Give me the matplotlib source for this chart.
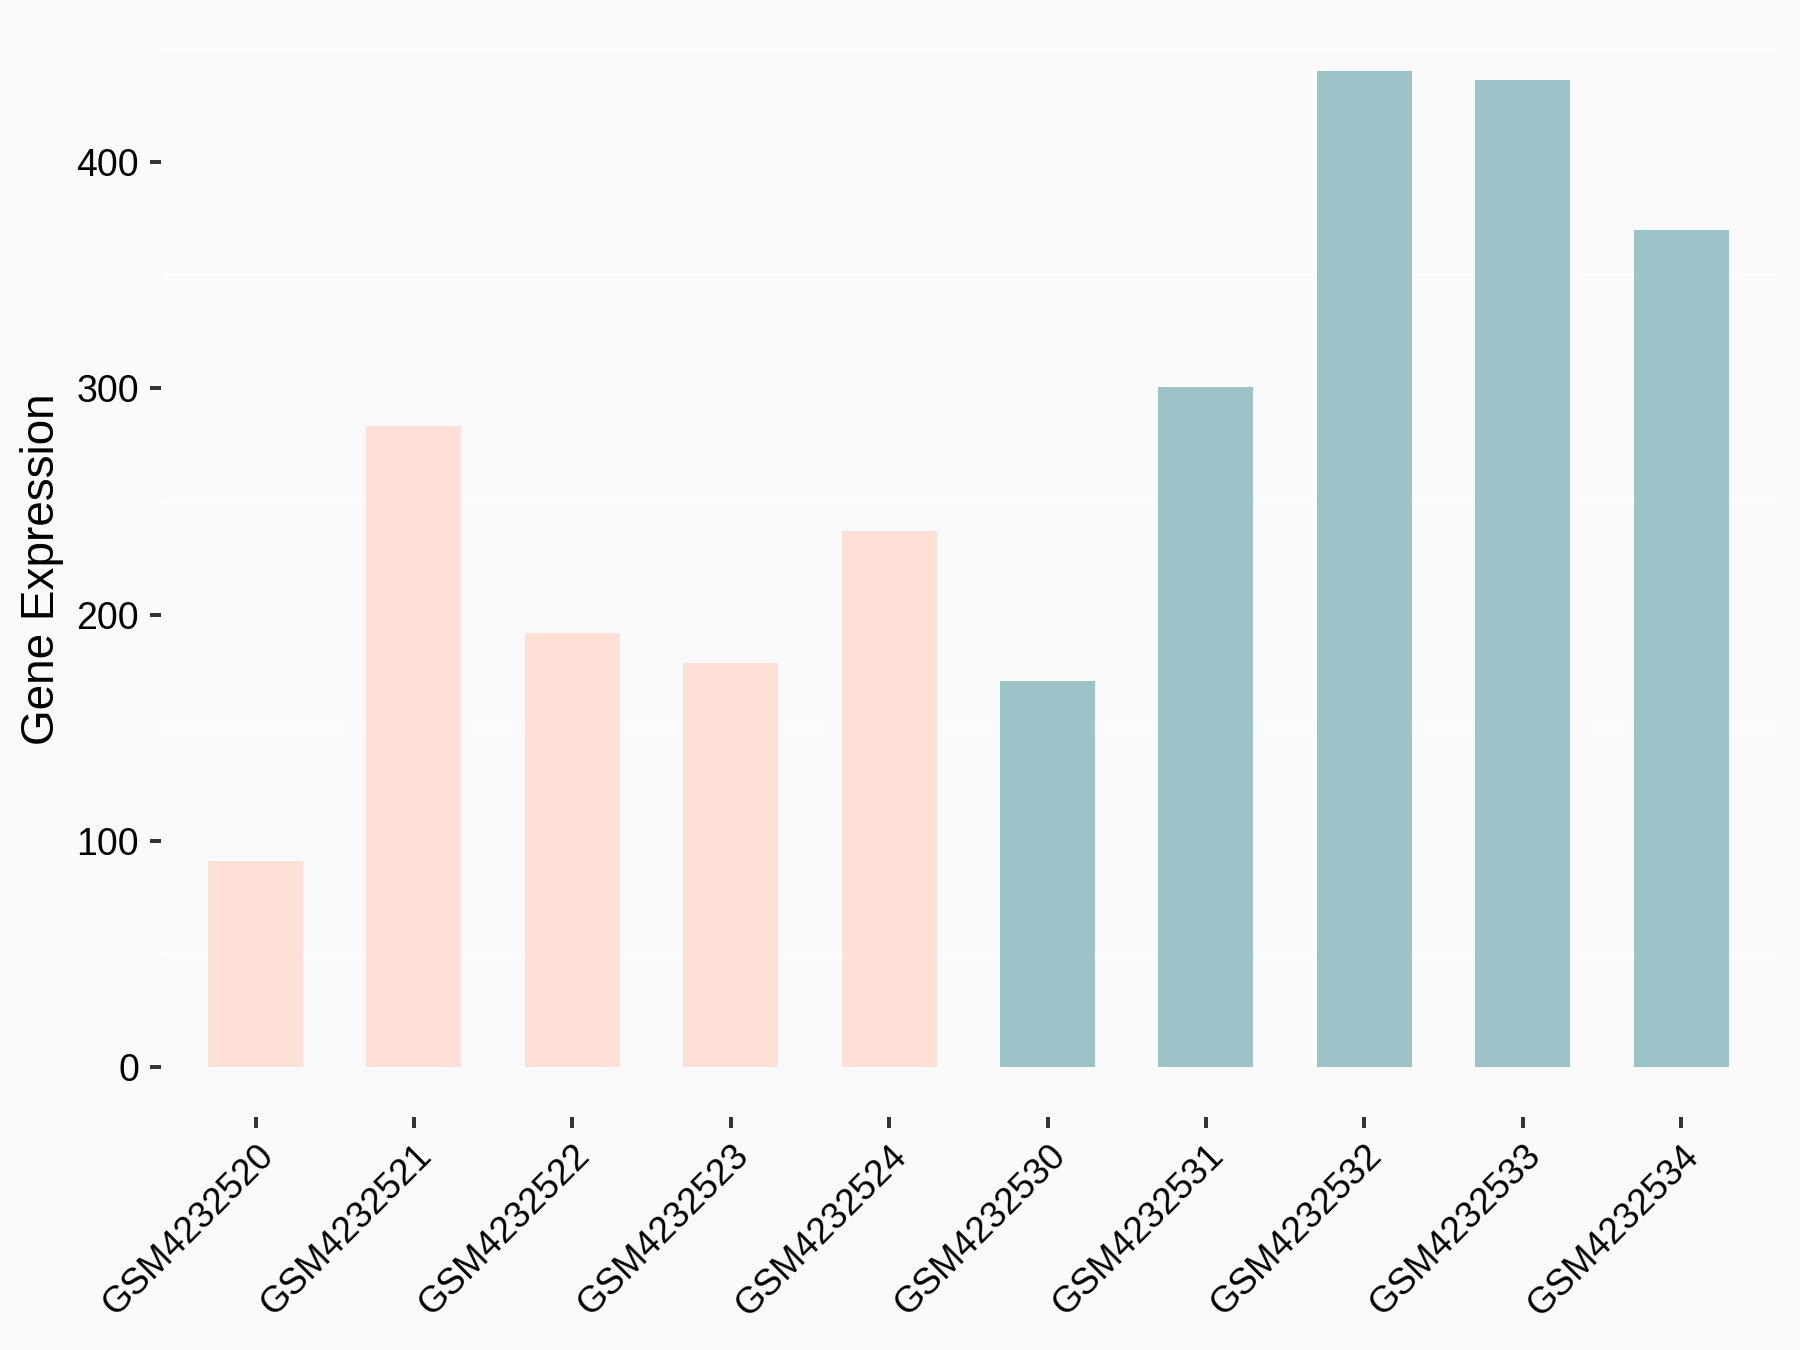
import matplotlib
matplotlib.use("Agg")
import matplotlib.pyplot as plt
import numpy as np

samples = ["GSM4232520", "GSM4232521", "GSM4232522", "GSM4232523", "GSM4232524",
           "GSM4232530", "GSM4232531", "GSM4232532", "GSM4232533", "GSM4232534"]
expression = [91.3, 283.4, 192.1, 178.5, 236.8, 170.8, 300.6, 440.1, 436.5, 370.1]
groups = ["A", "A", "A", "A", "A", "B", "B", "B", "B", "B"]
group_colors = {"A": "#FFE0D6", "B": "#9CC3C7"}
y_ticks = [0, 100, 200, 300, 400]
y_minor = [50, 150, 250, 350, 450]

plt.rcParams['font.family'] = ['Liberation Sans', 'DejaVu Sans']

fig = plt.figure(figsize=(12, 9), dpi=150, facecolor="#FAFAFA")
ax = fig.add_axes([0.0892, 0.1726, 0.8975, 0.8114])
ax.set_facecolor("#FAFAFA")

x = np.arange(len(samples))
ax.bar(x, expression, width=0.6, color=[group_colors[g] for g in groups], zorder=2)

ymax = max(expression)
ax.set_ylim(-0.05 * ymax, ymax * 1.05)
ax.set_xlim(-0.6, len(samples) - 0.4)

for v in y_minor:
    ax.axhline(v, color="white", lw=1.0, zorder=1)

ax.set_yticks(y_ticks)
ax.set_yticklabels([str(v) for v in y_ticks])
ax.set_xticks(x)
ax.set_xticklabels(samples, rotation=45, ha="right", va="top", rotation_mode="anchor")

ax.tick_params(axis="both", colors="#333333", length=5.3, width=1.9, labelsize=18,
               labelcolor="black")
ax.tick_params(axis="x", labelsize=17.6, pad=5)
ax.tick_params(axis="y", pad=5)

for s in ax.spines.values():
    s.set_visible(False)

ax.set_ylabel("Gene Expression", fontsize=22, color="black", labelpad=6)

fig.savefig("out.png", dpi=150, facecolor="#FAFAFA")
